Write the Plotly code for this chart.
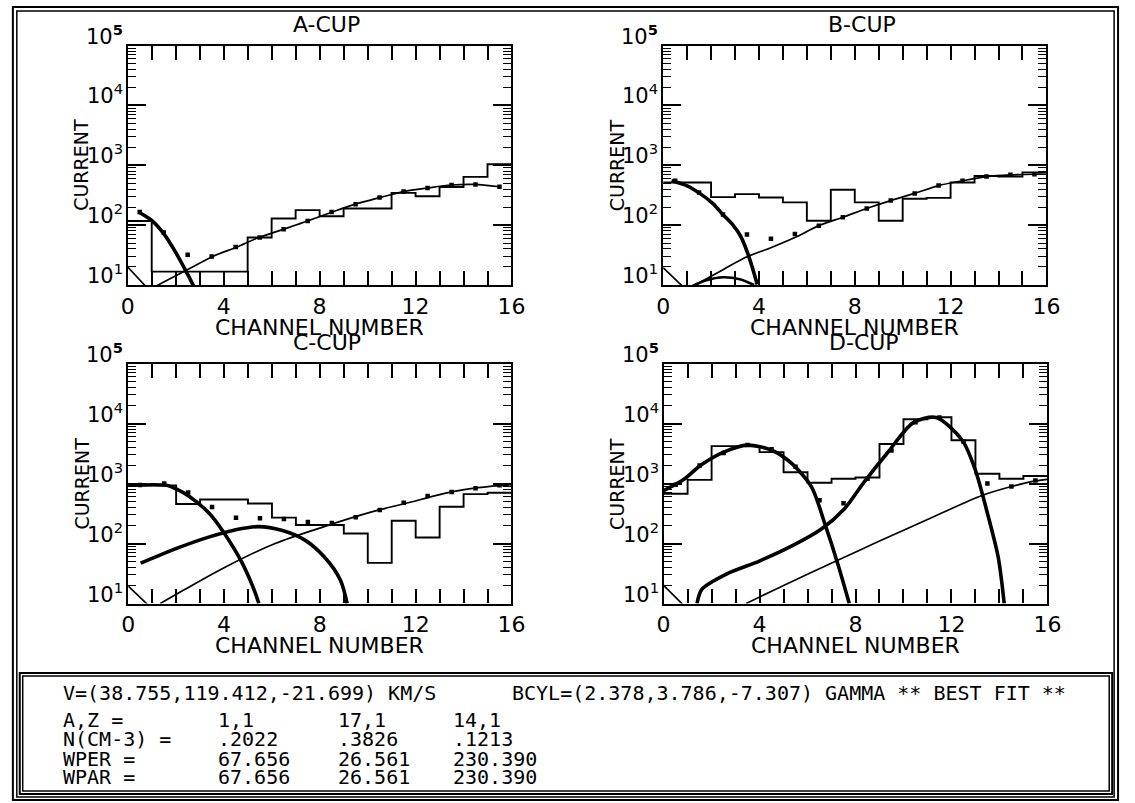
import math
import plotly.graph_objects as go

W, H = 1135, 803

# ---------------- data ----------------
edges = list(range(17))
centers = [k + 0.5 for k in range(16)]

# A-CUP
hist_A = [117, 16.7, 16.7, 16.7, 16.7, 62, 129, 178, 141, 190, 190, 346, 304, 433, 640, 1040]
dots_A = [166, 75, 32, 30, 43, 62, 85, 117, 166, 224, 288, 363, 417, 468, 479, 437]
thickA_ch = [0.45, 1.0, 1.5, 2.0, 2.5, 2.75]
thickA_v = [166, 120, 72, 35, 15, 9.5]
thinA_ch = [1.16, 2.32, 3.55, 4.55, 5.46, 6.48, 7.5, 8.53, 9.49, 10.5, 11.5, 12.5, 13.5, 14.47, 15.5]
thinA_v = [9.5, 16.6, 30, 43, 62, 85, 117, 166, 224, 288, 363, 417, 468, 479, 437]
cornerA_ch = [0, 0.75]
cornerA_v = [20, 9.5]

# B-CUP
hist_B = [516, 516, 294, 330, 290, 240, 118, 390, 240, 118, 275, 285, 516, 660, 650, 760]
dots_B = [550, 350, 150, 70, 59, 71, 98, 135, 190, 257, 339, 457, 550, 646, 692, 708]
thickB_ch = [0.35, 0.98, 1.53, 2.08, 2.49, 2.9, 3.24, 3.59, 3.93]
thickB_v = [550, 457, 339, 229, 151, 102, 65, 29, 10.2]
thinB_ch = [1.19, 2.5, 3.45, 4.5, 5.5, 6.5, 7.5, 8.5, 9.5, 10.5, 11.5, 12.5, 13.5, 14.5, 15.5, 16]
thinB_v = [9.3, 18, 29, 42, 62, 98, 135, 190, 257, 339, 457, 550, 646, 692, 708, 708]
humpB_ch = [1.2, 1.8, 2.5, 3.2, 3.8]
humpB_v = [9.5, 12, 13.5, 12.5, 10]
cornerB_ch = [0, 0.78]
cornerB_v = [19.5, 9.8]

# C-CUP
hist_C = [930, 930, 455, 540, 540, 465, 270, 203, 203, 147, 47.5, 240, 126, 410, 665, 700]
dots_C = [940, 1000, 708, 407, 269, 263, 257, 229, 219, 275, 363, 479, 617, 724, 832, 933]
thickC1_ch = [0, 1.6, 2.0, 2.57, 3.39, 4.01, 4.76, 5.31, 5.45]
thickC1_v = [933, 933, 813, 603, 316, 148, 47, 14.8, 10]
thickC2_ch = [0.52, 2.02, 3.39, 4.49, 5.44, 6.4, 7.36, 8.18, 8.86, 9.14]
thickC2_v = [47, 83, 129, 170, 191, 166, 115, 60, 24.5, 10]
thinC_ch = [1.34, 2.3, 4.08, 6.13, 8.18, 10.2, 11.6, 13.5, 14.6, 15.7, 16]
thinC_v = [10, 16.6, 41, 100, 191, 339, 468, 724, 851, 933, 955]
cornerC_ch = [0, 0.79]
cornerC_v = [19.5, 9.8]

# D-CUP
hist_D = [675, 1150, 4200, 4200, 3330, 1540, 1030, 1200, 1260, 4560, 11800, 12700, 5250, 1450, 1200, 1330]
dots_D = [955, 1995, 3236, 4365, 3715, 1905, 525, 468, 1202, 3548, 10471, 12589, 5012, 1000, 891, 1122]
thickD1_ch = [0, 0.85, 1.53, 2.48, 3.5, 4.53, 5.35, 6.17, 6.72, 7.26, 7.74]
thickD1_v = [759, 1175, 1995, 3311, 4365, 3548, 2138, 871, 214, 46, 10]
thickD2_ch = [1.39, 1.6, 2.62, 3.99, 5.35, 6.58, 7.54, 8.35, 9.31, 10.4, 11.36, 12.45, 13.0, 13.47, 13.95, 14.2]
thickD2_v = [10, 17.4, 31, 51, 91, 174, 380, 1047, 3162, 10233, 12589, 5248, 1660, 355, 59, 10]
thinD_ch = [3.44, 5.0, 7.19, 9.0, 11.0, 13.27, 14.5, 15.45, 16]
thinD_v = [10, 20, 51, 110, 251, 631, 891, 1096, 1175]
cornerD_ch = [0, 0.78]
cornerD_v = [20, 9.8]

x_ticks = list(range(17))
x_ticktext = [str(v) if v % 4 == 0 else "" for v in x_ticks]
y_ticks = [10, 100, 1000, 10000, 100000]
y_ticktext = ["10<sup>1</sup>", "10<sup>2</sup>", "10<sup>3</sup>", "10<sup>4</sup>", "10<sup><b>5</b></sup>"]
y_minor = [m * 10 ** d for d in range(1, 5) for m in range(2, 10)]

text_rows = [
    ("A,Z =", "1,1", "17,1", "14,1"),
    ("N(CM-3) =", ".2022", ".3826", ".1213"),
    ("WPER =", "67.656", "26.561", "230.390"),
    ("WPAR =", "67.656", "26.561", "230.390"),
]
line1_left = "V=(38.755,119.412,-21.699) KM/S"
line1_right = "BCYL=(2.378,3.786,-7.307) GAMMA ** BEST FIT **"

# ---------------- layout helpers ----------------
def px(x):
    return x / W

def py(y):
    return 1 - y / H

panels = [
    dict(title="A-CUP", box=(123, 514, 45.5, 285), tpos=(326, 24),
         hist=hist_A, dots=dots_A,
         curves=[(thickA_ch, thickA_v, 3.6), (thinA_ch, thinA_v, 1.7), (cornerA_ch, cornerA_v, 1.7)]),
    dict(title="B-CUP", box=(668.5, 1059, 45.5, 285), tpos=(871, 24),
         hist=hist_B, dots=dots_B,
         curves=[(thickB_ch, thickB_v, 3.6), (thinB_ch, thinB_v, 1.7), (humpB_ch, humpB_v, 2.6), (cornerB_ch, cornerB_v, 1.7)]),
    dict(title="C-CUP", box=(123.5, 514, 363.5, 603.5), tpos=(326, 343),
         hist=hist_C, dots=dots_C,
         curves=[(thickC1_ch, thickC1_v, 3.6), (thickC2_ch, thickC2_v, 3.6), (thinC_ch, thinC_v, 1.7), (cornerC_ch, cornerC_v, 1.7)]),
    dict(title="D-CUP", box=(669, 1060, 363.5, 603.5), tpos=(873, 343),
         hist=hist_D, dots=dots_D,
         curves=[(thickD1_ch, thickD1_v, 3.6), (thickD2_ch, thickD2_v, 3.6), (thinD_ch, thinD_v, 1.7), (cornerD_ch, cornerD_v, 1.7)]),
]

FONT = "DejaVu Sans"
fig = go.Figure()
annotations = []
layout_axes = {}

for i, p in enumerate(panels, start=1):
    xa = "x" if i == 1 else f"x{i}"
    ya = "y" if i == 1 else f"y{i}"
    ym = f"y{i + 4}"
    x0, x1, y0, y1 = p["box"]
    # histogram
    fig.add_trace(go.Scatter(x=edges, y=p["hist"] + [p["hist"][-1]], mode="lines",
                             line=dict(shape="hv", color="black", width=1.9),
                             xaxis=xa, yaxis=ya, showlegend=False, hoverinfo="skip"))
    for cx, cy, w in p["curves"]:
        fig.add_trace(go.Scatter(x=cx, y=cy, mode="lines",
                                 line=dict(shape="spline", smoothing=0.8, color="black", width=w),
                                 xaxis=xa, yaxis=ya, showlegend=False, hoverinfo="skip"))
    fig.add_trace(go.Scatter(x=centers, y=p["dots"], mode="markers",
                             marker=dict(symbol="square", size=4.5, color="black"),
                             xaxis=xa, yaxis=ya, showlegend=False, hoverinfo="skip"))
    # invisible trace so the minor-tick overlay axis is drawn
    fig.add_trace(go.Scatter(x=[8], y=[1000], mode="markers", marker=dict(opacity=0),
                             xaxis=xa, yaxis=ym, showlegend=False, hoverinfo="skip"))

    xkey = "xaxis" if i == 1 else f"xaxis{i}"
    ykey = "yaxis" if i == 1 else f"yaxis{i}"
    layout_axes[xkey] = dict(
        domain=[px(x0), px(x1)], anchor=ya, range=[0, 16],
        tickmode="array", tickvals=x_ticks, ticktext=x_ticktext,
        ticks="inside", ticklen=14, tickwidth=1.7, tickcolor="black",
        showline=True, linecolor="black", linewidth=2.2, mirror="ticks",
        showgrid=False, zeroline=False,
        tickfont=dict(family=FONT, size=22, color="black"),
    )
    layout_axes[ykey] = dict(
        domain=[py(y1), py(y0)], anchor=xa, type="log", range=[1, 5],
        tickmode="array", tickvals=y_ticks, showticklabels=False,
        ticks="inside", ticklen=18, tickwidth=1.7, tickcolor="black",
        showline=True, linecolor="black", linewidth=2.2, mirror="ticks",
        showgrid=False, zeroline=False,
    )
    layout_axes[f"yaxis{i + 4}"] = dict(
        overlaying=ya, anchor=xa, type="log", range=[1, 5], side="left",
        tickmode="array", tickvals=y_minor, showticklabels=False,
        ticks="inside", ticklen=8, tickwidth=1.4, tickcolor="black",
        showline=False, mirror="ticks", showgrid=False, zeroline=False,
    )
    # y tick labels (power-of-ten text sitting on the tick, like the plotter output)
    for tv, tt in zip(y_ticks, y_ticktext):
        annotations.append(dict(x=px(x0 - 3), y=math.log10(tv), xref="paper", yref=ya,
                                text=tt, showarrow=False, xanchor="right", yanchor="bottom",
                                yshift=-5, font=dict(family=FONT, size=21, color="black")))
    # titles
    annotations.append(dict(x=px(p["tpos"][0]), y=py(p["tpos"][1]), xref="paper", yref="paper",
                            text=p["title"], showarrow=False, xanchor="center", yanchor="middle",
                            font=dict(family=FONT, size=22, color="black")))
    annotations.append(dict(x=px((x0 + x1) / 2), y=py(y1 + 42), xref="paper", yref="paper",
                            text="CHANNEL NUMBER", showarrow=False, xanchor="center", yanchor="middle",
                            font=dict(family=FONT, size=22, color="black")))
    annotations.append(dict(x=px(x0 - 47), y=py((y0 + y1) / 2), xref="paper", yref="paper",
                            text="CURRENT", showarrow=False, textangle=-90, xanchor="center", yanchor="middle",
                            font=dict(family=FONT, size=19, color="black")))

MONO = "DejaVu Sans Mono"
annotations.append(dict(x=px(55), y=py(693), xref="paper", yref="paper", text=line1_left,
                        showarrow=False, xanchor="left", yanchor="middle",
                        font=dict(family=MONO, size=20, color="black")))
annotations.append(dict(x=px(512), y=py(693), xref="paper", yref="paper", text=line1_right,
                        showarrow=False, xanchor="left", yanchor="middle",
                        font=dict(family=MONO, size=20, color="black")))
row_y = [720, 739, 759, 777]
col_x = [55, 213, 335, 452]
for ry, row in zip(row_y, text_rows):
    for cx, t in zip(col_x, row):
        annotations.append(dict(x=px(cx), y=py(ry), xref="paper", yref="paper", text=t,
                                showarrow=False, xanchor="left", yanchor="middle",
                                font=dict(family=MONO, size=20, color="black")))

def rect(x0, y0, x1, y1, w):
    return dict(type="rect", xref="paper", yref="paper", x0=px(x0), x1=px(x1), y0=py(y1), y1=py(y0),
                line=dict(color="black", width=w), fillcolor="rgba(0,0,0,0)")

shapes = [
    rect(6, 7, 1132, 800, 2),
    rect(10, 11, 1128, 797, 1.5),
    rect(13, 673, 1126, 794, 2),
    rect(16, 676, 1123, 791, 1.5),
]

fig.update_layout(
    width=W, height=H, margin=dict(l=0, r=0, t=0, b=0),
    paper_bgcolor="white", plot_bgcolor="white",
    annotations=annotations, shapes=shapes, showlegend=False,
    **layout_axes,
)

fig.write_html("out.html")
